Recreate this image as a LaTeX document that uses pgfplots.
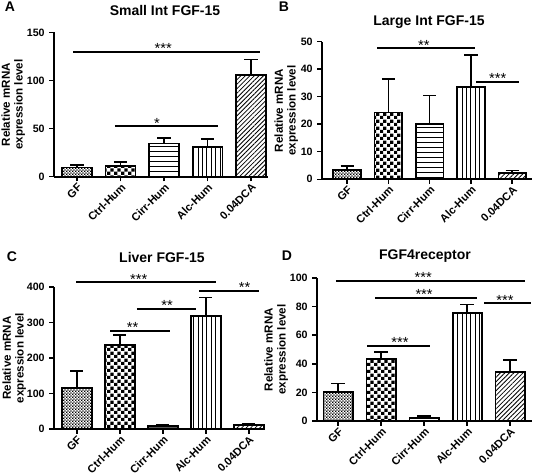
\documentclass[border=0pt]{standalone}
\usepackage{fontspec}
\setmainfont{Liberation Sans}
\usepackage{pgfplots}
\pgfplotsset{compat=1.18}
\usetikzlibrary{patterns.meta}

\tikzdeclarepattern{name=finecheck, type=uncolored,
  bounding box={(0,0) and (2.4pt,2.4pt)}, tile size={(2.4pt,2.4pt)},
  code={\fill (0,0) rectangle (1.2pt,1.2pt); \fill (1.2pt,1.2pt) rectangle (2.4pt,2.4pt);}}
\tikzdeclarepattern{name=bigcheck, type=uncolored,
  bounding box={(0,0) and (5pt,5pt)}, tile size={(5pt,5pt)},
  code={\fill (0,0) rectangle (2.5pt,2.5pt); \fill (2.5pt,2.5pt) rectangle (5pt,5pt);}}

\tikzset{sigstar/.style={anchor=south, inner sep=0pt, yshift=-1.5pt, font=\fontsize{11}{11}\selectfont}}

\pgfplotsset{
  panel/.style={scale only axis, axis x line*=bottom, axis y line*=left,
    ymin=0, xtick={0,1,2,3,4},
    xticklabels={GF,Ctrl-Hum,Cirr-Hum,Alc-Hum,0.04DCA},
    x tick label style={rotate=45, anchor=north east, inner sep=0.5pt, font=\fontsize{8.3}{9}\selectfont\bfseries},
    y tick label style={font=\fontsize{8}{9}\selectfont\bfseries},
    tick align=outside, major tick length=3.5pt,
    tick style={black, line width=1.1pt},
    axis line style={line width=1.3pt},
    /pgf/number format/assume math mode=true,
    ylabel={Relative mRNA\\expression level},
    ylabel style={align=center, font=\fontsize{8.7}{9.6}\selectfont\bfseries, anchor=center},
    clip=false},
  bb/.style={ybar, bar width=#1, bar shift=0pt, draw=black, line width=1.3pt,
    error bars/y dir=plus, error bars/y explicit,
    error bars/error bar style={line width=1.1pt, black, solid},
    error bars/error mark options={rotate=90, line width=1.1pt, black, mark size=5pt}},
  sig/.style={black, line width=1.5pt, mark=none, forget plot}
}

\begin{document}
\begin{tikzpicture}
\useasboundingbox (0,0) rectangle (399.75pt,356.25pt);

% Panel letters and titles
\node[font=\fontsize{10.5}{12}\selectfont\bfseries] at (7.5pt,351pt) {A};
\node[font=\fontsize{10.5}{12}\selectfont\bfseries] at (123.75pt,348pt) {Small Int FGF-15};
\node[font=\fontsize{10.5}{12}\selectfont\bfseries] at (213pt,351pt) {B};
\node[font=\fontsize{10.5}{12}\selectfont\bfseries] at (321.75pt,339.4pt) {Large Int FGF-15};
\node[font=\fontsize{10.5}{12}\selectfont\bfseries] at (9pt,163.5pt) {C};
\node[font=\fontsize{10.5}{12}\selectfont\bfseries] at (121.5pt,163.5pt) {Liver FGF-15};
\node[font=\fontsize{10.5}{12}\selectfont\bfseries] at (215.25pt,164.25pt) {D};
\node[font=\fontsize{10.5}{12}\selectfont\bfseries] at (318.75pt,164.25pt) {FGF4receptor};

% ---------------- A ----------------
\begin{axis}[panel, at={(40.5pt,223.7pt)}, anchor=south west,
  width=160.5pt, height=108.3pt, xmin=-0.53, xmax=4.39, ymax=150,
  ytick={0,50,100,150},
  ylabel style={at={(axis description cs:-0.19,0.5)}}]
\addplot[bb=0.69, pattern=finecheck] coordinates {(0,9.7) +- (0,2.7)};
\addplot[bb=0.69, pattern=bigcheck] coordinates {(1,11) +- (0,4.2)};
\addplot[bb=0.69, pattern={Lines[angle=0,distance=4pt,line width=0.6pt]}] coordinates {(2,34.5) +- (0,5.8)};
\addplot[bb=0.69, pattern={Lines[angle=90,distance=3.3pt,line width=0.6pt]}] coordinates {(3,31) +- (0,8)};
\addplot[bb=0.69, pattern={Lines[angle=45,distance=2.4pt,line width=0.6pt]}] coordinates {(4,106) +- (0,16)};
\addplot[sig] coordinates {(-0.09,130) (4.21,130)};
\addplot[sig] coordinates {(0.87,52.4) (3.24,52.4)};
\node[sigstar] at (axis cs:1.98,130) {***};
\node[sigstar] at (axis cs:1.84,52.4) {*};
\end{axis}

% ---------------- B ----------------
\begin{axis}[panel, at={(241.5pt,221.8pt)}, anchor=south west,
  width=157.5pt, height=103.2pt, xmin=-0.61, xmax=4.48, ymax=50,
  ytick={0,10,20,30,40,50},
  ylabel style={at={(axis description cs:-0.17,0.5)}}]
\addplot[bb=0.67, pattern=finecheck] coordinates {(0,3.4) +- (0,1.5)};
\addplot[bb=0.67, pattern=bigcheck] coordinates {(1,24.3) +- (0,12.1)};
\addplot[bb=0.67, pattern={Lines[angle=0,distance=4pt,line width=0.6pt]}] coordinates {(2,20.1) +- (0,10.3)};
\addplot[bb=0.67, pattern={Lines[angle=90,distance=3.3pt,line width=0.6pt]}] coordinates {(3,33.5) +- (0,11.7)};
\addplot[bb=0.67, pattern={Lines[angle=45,distance=2.4pt,line width=0.6pt]}] coordinates {(4,2.4) +- (0,0.8)};
\addplot[sig] coordinates {(0.73,47.6) (3.09,47.6)};
\addplot[sig] coordinates {(3.13,35.4) (4.16,35.4)};
\node[sigstar] at (axis cs:1.86,47.6) {**};
\node[sigstar] at (axis cs:3.65,35.4) {***};
\end{axis}

% ---------------- C ----------------
\begin{axis}[panel, at={(40.5pt,34.5pt)}, anchor=south west,
  width=156.75pt, height=106.5pt, xmin=-0.53, xmax=4.33, ymax=400,
  ytick={0,100,200,300,400},
  ylabel style={at={(axis description cs:-0.19,0.5)}}]
\addplot[bb=0.7, pattern=finecheck] coordinates {(0,116) +- (0,48)};
\addplot[bb=0.7, pattern=bigcheck] coordinates {(1,237) +- (0,28)};
\addplot[bb=0.7, pattern={Lines[angle=0,distance=4pt,line width=0.6pt]}] coordinates {(2,8.5) +- (0,2.5)};
\addplot[bb=0.7, pattern={Lines[angle=90,distance=3.3pt,line width=0.6pt]}] coordinates {(3,319) +- (0,52)};
\addplot[bb=0.7, pattern={Lines[angle=45,distance=2.4pt,line width=0.6pt]}] coordinates {(4,12) +- (0,3)};
\addplot[sig] coordinates {(-0.01,413) (3.24,413)};
\addplot[sig] coordinates {(2.85,389) (4.23,389)};
\addplot[sig] coordinates {(1.4,338) (2.78,338)};
\addplot[sig] coordinates {(0.78,277) (2.16,277)};
\node[sigstar] at (axis cs:1.44,413) {***};
\node[sigstar] at (axis cs:3.9,389) {**};
\node[sigstar] at (axis cs:2.1,338) {**};
\node[sigstar] at (axis cs:1.3,277) {**};
\end{axis}

% ---------------- D ----------------
\begin{axis}[panel, at={(237.75pt,40.5pt)}, anchor=south west,
  width=161.25pt, height=107.25pt, xmin=-0.49, xmax=4.51, ymax=100,
  ytick={0,20,40,60,80,100},
  ylabel style={at={(axis description cs:-0.19,0.5)}}]
\addplot[bb=0.68, pattern=finecheck] coordinates {(0,20.3) +- (0,6)};
\addplot[bb=0.68, pattern=bigcheck] coordinates {(1,43.6) +- (0,4.5)};
\addplot[bb=0.68, pattern={Lines[angle=0,distance=4pt,line width=0.6pt]}] coordinates {(2,2.3) +- (0,1.2)};
\addplot[bb=0.68, pattern={Lines[angle=90,distance=3.3pt,line width=0.6pt]}] coordinates {(3,75.3) +- (0,6.3)};
\addplot[bb=0.68, pattern={Lines[angle=45,distance=2.4pt,line width=0.6pt]}] coordinates {(4,34.3) +- (0,8.4)};
\addplot[sig] coordinates {(-0.05,97.9) (4.35,97.9)};
\addplot[sig] coordinates {(0.86,86.2) (3.23,86.2)};
\addplot[sig] coordinates {(3.4,82.3) (4.48,82.3)};
\addplot[sig] coordinates {(0.68,52.4) (2.14,52.4)};
\node[sigstar] at (axis cs:1.98,97.9) {***};
\node[sigstar] at (axis cs:2.0,86.2) {***};
\node[sigstar] at (axis cs:3.88,82.3) {***};
\node[sigstar] at (axis cs:1.44,52.4) {***};
\end{axis}
\end{tikzpicture}
\end{document}
